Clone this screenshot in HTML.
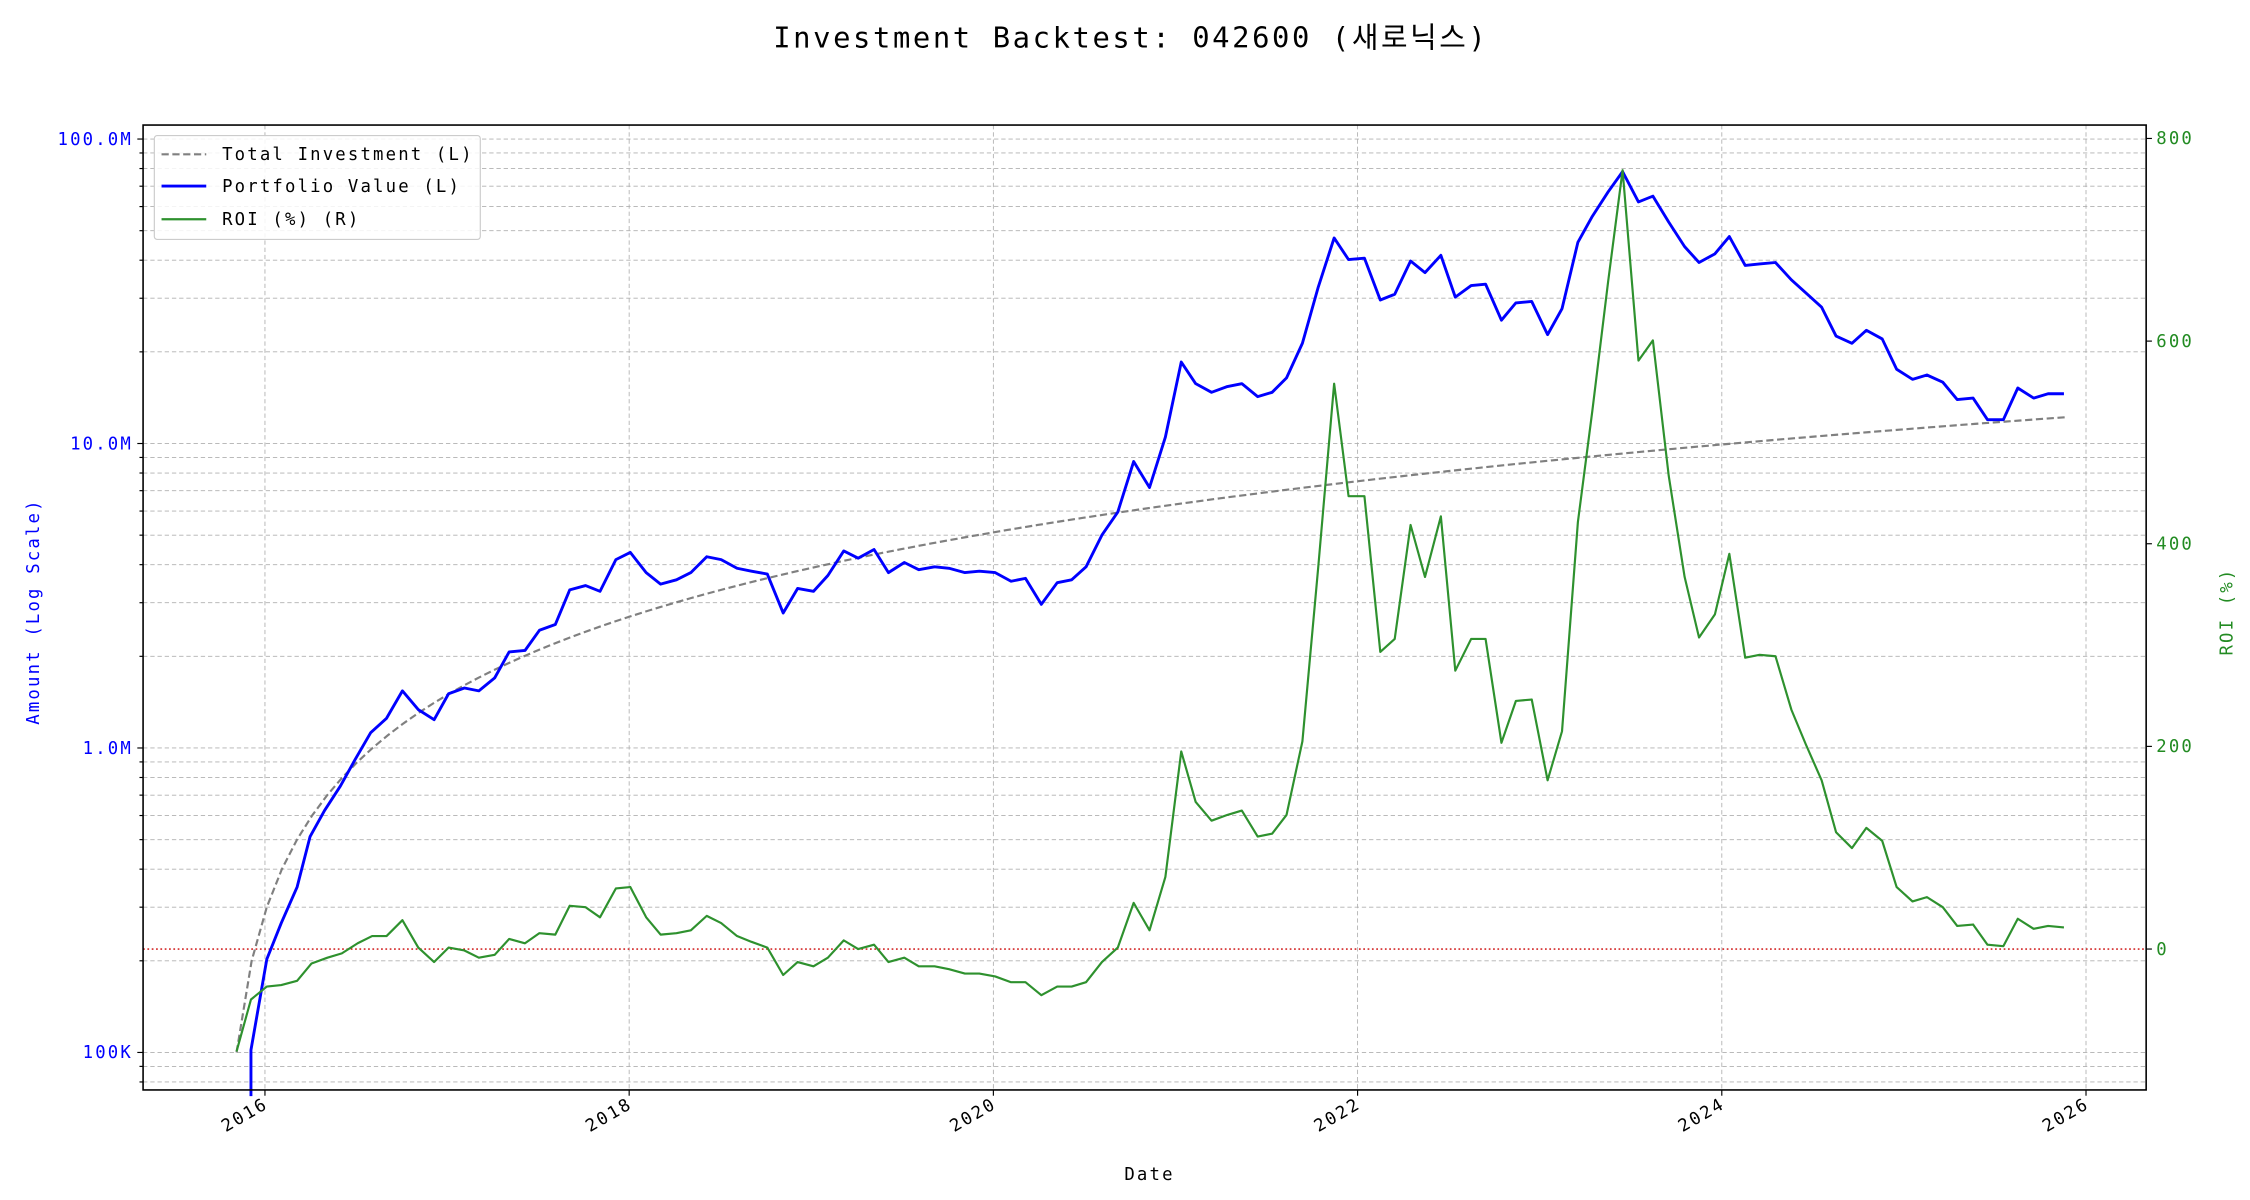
<!DOCTYPE html>
<html><head><meta charset="utf-8"><style>
html,body{margin:0;padding:0;background:#fff;}
svg{display:block;}
text{font-family:"DejaVu Sans Mono","Liberation Mono","Noto Sans CJK KR",monospace;}
.s{font-size:12px;letter-spacing:1.5px;}
</style></head><body>
<svg id="s" width="2250" height="1200" viewBox="0 0 1560 832" xmlns="http://www.w3.org/2000/svg">
<rect width="1560" height="832" fill="#fff"/>
<g id="grid"></g>
<g id="series"></g>
<rect x="99.2" y="86.7" width="1388.8" height="669" fill="none" stroke="#000" stroke-width="1.1"/>
<g id="ticks"></g>
<text x="784" y="33" font-size="20" letter-spacing="1.8" text-anchor="middle" fill="#000">Investment Backtest: 042600 (<tspan font-family="Noto Sans CJK KR, sans-serif">새로닉스</tspan>)</text>
<text class="s" x="797" y="818" text-anchor="middle">Date</text>
<text class="s" transform="translate(27,424) rotate(-90)" text-anchor="middle" fill="#0000ff">Amount (Log Scale)</text>
<text class="s" transform="translate(1548,424) rotate(-90)" text-anchor="middle" fill="#228B22">ROI (%)</text>
<g>
<rect x="107" y="94" width="226" height="72" rx="2" fill="#fff" fill-opacity="0.85" stroke="#ccc" stroke-width="0.8"/>
<line x1="112" y1="107" x2="143" y2="107" stroke="#808080" stroke-width="1.5" stroke-dasharray="5,2.5"/>
<line x1="112" y1="129" x2="143" y2="129" stroke="#0000ff" stroke-width="2"/>
<line x1="112" y1="152" x2="143" y2="152" stroke="#2e912e" stroke-width="1.5"/>
<text class="s" x="154" y="111">Total Investment (L)</text>
<text class="s" x="154" y="133">Portfolio Value (L)</text>
<text class="s" x="154" y="156">ROI (%) (R)</text>
</g>
</svg>
<script>
const NS="http://www.w3.org/2000/svg";
function el(p,t,a,txt){const e=document.createElementNS(NS,t);for(const k in a)e.setAttribute(k,a[k]);if(txt!==undefined)e.textContent=txt;document.getElementById(p).appendChild(e);return e;}
const L=99.2,R=1488,T=86.7,B=755.7;
const yL=v=>729.7-211.1*Math.log10(v/1e5);
const yR=r=>658-r*0.7025;
const xY=y=>183.7+(y-2016)*126.26;
for(let k=4;k<=8;k++)for(let m=1;m<10;m++){const v=m*Math.pow(10,k);const y=yL(v);if(y<T||y>B)continue;
el("grid","line",{x1:L,x2:R,y1:y,y2:y,stroke:"#b0b0b0","stroke-width":0.6,"stroke-dasharray":"3,2"});
el("ticks","line",{x1:L-(m==1?4:2.5),x2:L,y1:y,y2:y,stroke:"#000","stroke-width":0.8});}
[[1e5,"100K"],[1e6,"1.0M"],[1e7,"10.0M"],[1e8,"100.0M"]].forEach(([v,t])=>el("ticks","text",{class:"s",x:L-7,y:yL(v)+4,"text-anchor":"end",fill:"#0000ff"},t));
for(let yr=2016;yr<=2026;yr+=2){const x=xY(yr);
el("grid","line",{x1:x,x2:x,y1:T,y2:B,stroke:"#b0b0b0","stroke-width":0.6,"stroke-dasharray":"3,2"});
el("ticks","line",{x1:x,x2:x,y1:B,y2:B+4,stroke:"#000","stroke-width":0.8});
el("ticks","text",{class:"s",transform:`translate(${x+3},${B+12}) rotate(-30)`,"text-anchor":"end"},String(yr));}
for(let r=0;r<=800;r+=200){const y=yR(r);
el("ticks","line",{x1:R,x2:R+4,y1:y,y2:y,stroke:"#000","stroke-width":0.8});
el("ticks","text",{class:"s",x:R+7,y:y+4,fill:"#228B22"},String(r));}
el("grid","line",{x1:L,x2:R,y1:yR(0),y2:yR(0),stroke:"#cc0000","stroke-width":0.9,"stroke-dasharray":"1.2,1.8"});
let inv=[];for(let n=0;n<=121;n++){inv.push([164+n*10.48,yL(1e5*(n+1))]);}
el("series","polyline",{points:inv.map(p=>p.join(",")).join(" "),fill:"none",stroke:"#808080","stroke-width":1.5,"stroke-dasharray":"5,2.5"});
const blue="174,760 174,728 185,665 195,640 206,615 215,580 225,562 236,545 246,527 257,508 268,498 279,479 290,492 301,499 311,481 322,477 332,479 343,470 353,452 364,451 374,437 385,433 395,409 406,406 416,410 427,388 437,383 448,397 458,405 469,402 479,397 490,386 500,388 511,394 521,396 532,398 543,425 553,408 564,410 574,399 585,382 595,387 606,381 616,397 627,390 637,395 648,393 658,394 669,397 679,396 690,397 701,403 711,401 722,419 733,404 743,402 753,393 764,371 775,355 786,320 797,338 808,303 819,251 829,266 840,272 851,268 861,266 872,275 882,272 892,262 903,238 914,199 925,165 935,180 946,179 957,208 967,204 978,181 988,189 999,177 1009,206 1020,198 1030,197 1041,222 1051,210 1062,209 1073,232 1083,214 1094,168 1104,150 1115,133 1125,119 1136,140 1146,136 1157,154 1168,171 1178,182 1189,176 1199,164 1210,184 1220,183 1231,182 1242,194 1252,203 1263,213 1273,233 1284,238 1294,229 1305,235 1315,256 1326,263 1336,260 1347,265 1357,277 1368,276 1378,291 1389,291 1399,269 1410,276 1420,273 1431,273";
const green="164,729 174,693 185,684 195,683 206,680 216,668 227,664 237,661 248,654 258,649 268,649 279,638 290,657 301,667 311,657 322,659 332,664 343,662 353,651 364,654 374,647 385,648 395,628 406,629 416,636 427,616 437,615 448,636 458,648 469,647 479,645 490,635 500,640 511,649 521,653 532,657 543,676 553,667 564,670 574,664 585,652 595,658 606,655 616,667 627,664 637,670 648,670 658,672 669,675 679,675 690,677 701,681 711,681 722,690 733,684 743,684 753,681 764,667 775,657 786,626 797,645 808,608 819,521 829,556 840,569 851,565 861,562 872,580 882,578 892,565 903,514 914,393 925,266 935,344 946,344 957,452 967,443 978,364 988,400 999,358 1009,465 1020,443 1030,443 1041,515 1051,486 1062,485 1073,541 1083,507 1094,362 1104,285 1115,195 1125,118 1136,250 1146,236 1157,330 1168,400 1178,442 1189,426 1199,384 1210,456 1220,454 1231,455 1242,492 1252,516 1263,541 1273,577 1284,588 1294,574 1305,583 1315,615 1326,625 1336,622 1347,629 1357,642 1368,641 1378,655 1389,656 1399,637 1410,644 1420,642 1431,643";
el("series","polyline",{points:blue,fill:"none",stroke:"#0000ff","stroke-width":2,"stroke-linejoin":"round"});
el("series","polyline",{points:green,fill:"none",stroke:"#2e912e","stroke-width":1.5,"stroke-linejoin":"round"});
</script>
</body></html>
